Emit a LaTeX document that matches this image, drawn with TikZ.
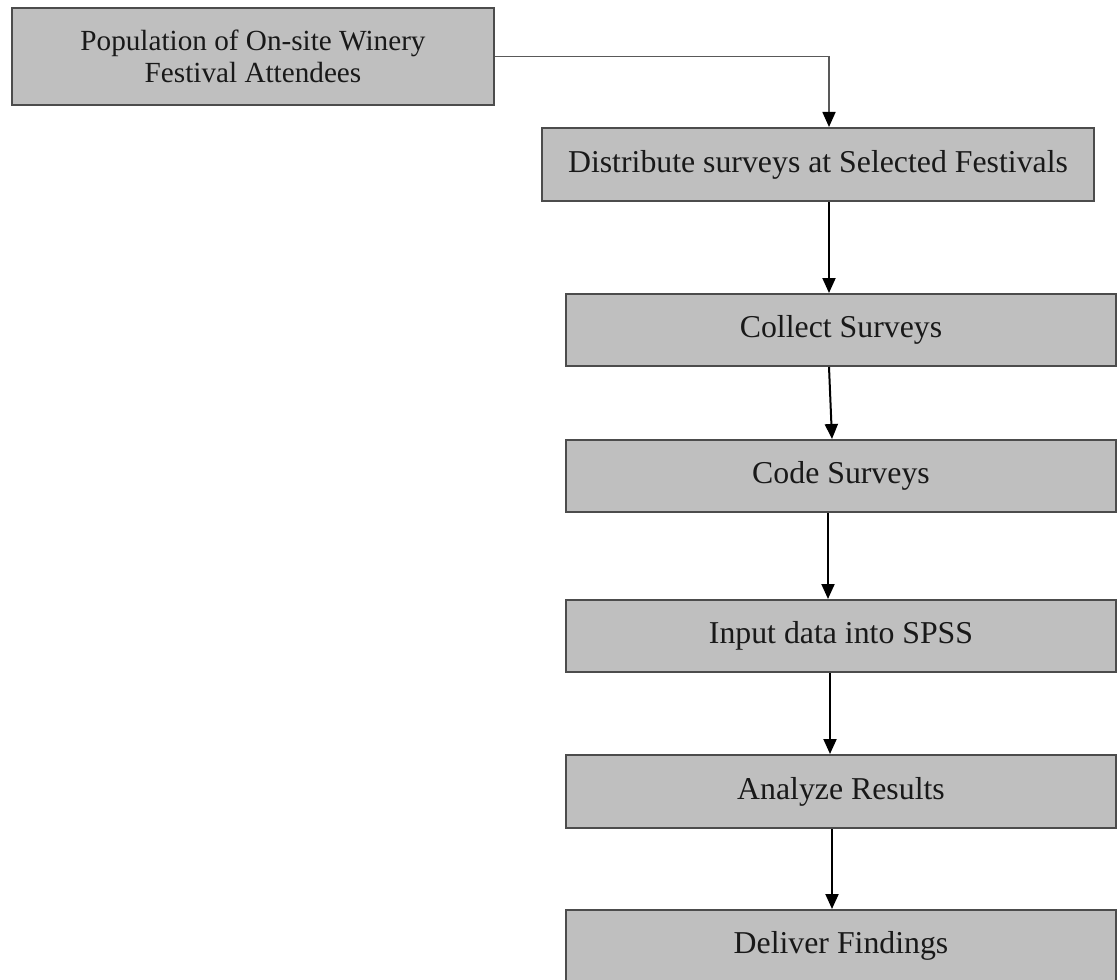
\documentclass[tikz,border=0pt]{standalone}
\usepackage{fontspec}
\setmainfont{Liberation Serif}
\usetikzlibrary{arrows.meta}
\begin{document}
\begin{tikzpicture}[x=1pt,y=-1pt,
  box/.style={draw=black!70,line width=2pt,fill=black!25,inner sep=0pt,
    align=center,font=\fontsize{31.8}{34}\selectfont,text=black!90},
  conn/.style={draw=black,line width=2pt,-{Triangle[width=13pt,length=15pt]}},
  firstconn/.style={draw=black!65,line width=1.6pt,-{Triangle[width=13pt,length=15pt,color=black]}}]
\useasboundingbox (0,0) rectangle (1118,979);
\node[box,minimum width=482pt,minimum height=97pt,font=\fontsize{29.2}{32}\selectfont] (b1) at (253,56.5) {Population of On-site Winery\\Festival Attendees};
\node[box,minimum width=552pt,minimum height=73pt] (b2) at (818,164.5) {Distribute surveys at Selected Festivals};
\node[box,minimum width=550pt,minimum height=72pt] (b3) at (841,330) {Collect Surveys};
\node[box,minimum width=550pt,minimum height=72pt] (b4) at (841,476) {Code Surveys};
\node[box,minimum width=550pt,minimum height=72pt] (b5) at (841,636) {Input data into SPSS};
\node[box,minimum width=550pt,minimum height=73pt] (b6) at (841,791.5) {Analyze Results};
\node[box,minimum width=550pt,minimum height=72pt] (b7) at (841,946) {Deliver Findings};
\draw[firstconn] (b1.east) -| ([xshift=11pt]b2.north);
\draw[conn] ([xshift=11pt]b2.south) -- ([xshift=-12pt]b3.north);
\draw[conn] ([xshift=-12pt]b3.south) -- ([xshift=-9pt]b4.north);
\draw[conn] ([xshift=-13pt]b4.south) -- ([xshift=-13pt]b5.north);
\draw[conn] ([xshift=-11pt]b5.south) -- ([xshift=-11pt]b6.north);
\draw[conn] ([xshift=-9pt]b6.south) -- ([xshift=-9pt]b7.north);
\end{tikzpicture}
\end{document}
